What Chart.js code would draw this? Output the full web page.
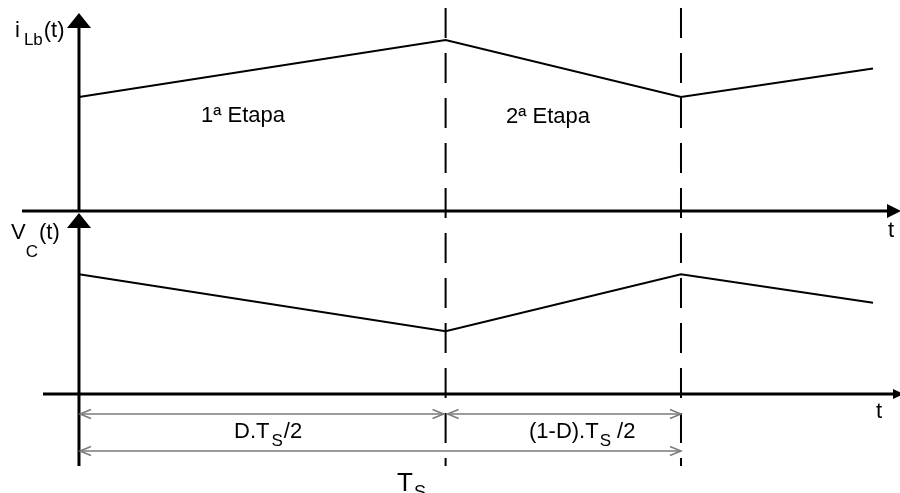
<!DOCTYPE html>
<html>
<head>
<meta charset="utf-8">
<title>iLb(t) e Vc(t)</title>
<script src="https://cdn.jsdelivr.net/npm/chart.js@4/dist/chart.umd.min.js"></script>
<style>
    body { margin: 0; background: #fff; }
    #box { width: 900px; height: 493px; }
</style>
</head>
<body>
<div id="box"><canvas id="waveChart"></canvas></div>
<script>
/* DATA (time in units of Ts, amplitudes in arbitrary units) */
let times = [0, 0.609, 1.0, 1.319];
let iLbValues = [2.0, 3.0, 2.0, 2.5];
let vCValues = [2.1, 1.1, 2.1, 1.6];
let stageLabels = ["1ª Etapa", "2ª Etapa"];
let switchTimes = [0.609, 1.0];

/* SCALE RANGES */
let xMin = -0.1312, xMax = 1.3638;
let topMin = -4.947, topMax = 3.702;
let botMin = -1.737, botMax = 6.912;

let FONT = "Liberation Sans, Arial, sans-serif";

function toPoints(values) {
    return values.map((v, i) => ({ x: times[i], y: v }));
}

/* RICH TEXT: parts = [text, size, dy, gapBefore] */
function drawParts(ctx, x, y, parts) {
    ctx.fillStyle = "#000";
    ctx.textAlign = "left";
    ctx.textBaseline = "alphabetic";
    parts.forEach(p => {
        ctx.font = p[1] + "px " + FONT;
        x += p[3] || 0;
        ctx.fillText(p[0], x, y + (p[2] || 0));
        x += ctx.measureText(p[0]).width;
    });
}

function arrowUp(ctx, x, tipY) {
    ctx.beginPath();
    ctx.moveTo(x, tipY);
    ctx.lineTo(x - 12, tipY + 15);
    ctx.lineTo(x + 12, tipY + 15);
    ctx.closePath();
    ctx.fill();
}

function arrowRight(ctx, tipX, y, len, half) {
    ctx.beginPath();
    ctx.moveTo(tipX, y);
    ctx.lineTo(tipX - len, y - half);
    ctx.lineTo(tipX - len, y + half);
    ctx.closePath();
    ctx.fill();
}

/* open chevron at end of a dimension line, dir = -1 left, 1 right */
function chevron(ctx, x, y, dir) {
    ctx.beginPath();
    ctx.moveTo(x - dir * 11, y - 4.5);
    ctx.lineTo(x, y);
    ctx.lineTo(x - dir * 11, y + 4.5);
    ctx.stroke();
}

function dimLine(ctx, x1, x2, y) {
    ctx.beginPath();
    ctx.moveTo(x1, y);
    ctx.lineTo(x2, y);
    ctx.stroke();
    chevron(ctx, x1, y, -1);
    chevron(ctx, x2, y, 1);
}

/* AXES, SWITCHING LINES AND DIMENSIONS */
let diagramPlugin = {
    id: "diagram",
    beforeDatasetsDraw(chart) {
        let ctx = chart.ctx;
        let x = chart.scales.x, yT = chart.scales.yTop, yB = chart.scales.yBot;
        let x0 = x.getPixelForValue(0);
        let zeroTop = yT.getPixelForValue(0);
        let zeroBot = yB.getPixelForValue(0);

        ctx.save();
        ctx.fillStyle = "#000";
        ctx.strokeStyle = "#000";

        /* dashed switching lines */
        ctx.lineWidth = 2;
        ctx.setLineDash([30, 15]);
        switchTimes.forEach(t => {
            let px = x.getPixelForValue(t);
            ctx.beginPath();
            ctx.moveTo(px, 8);
            ctx.lineTo(px, 466);
            ctx.stroke();
        });
        ctx.setLineDash([]);

        /* axes */
        ctx.lineWidth = 3;
        ctx.beginPath();
        ctx.moveTo(x0, zeroTop);
        ctx.lineTo(x0, 25);
        ctx.moveTo(x0, 466);
        ctx.lineTo(x0, zeroTop + 15);
        ctx.moveTo(22, zeroTop);
        ctx.lineTo(888, zeroTop);
        ctx.moveTo(43, zeroBot);
        ctx.lineTo(894, zeroBot);
        ctx.stroke();
        arrowUp(ctx, x0, 13);
        arrowUp(ctx, x0, zeroTop + 2);
        arrowRight(ctx, 901, zeroTop, 14, 7);
        arrowRight(ctx, 904, zeroBot, 11, 5);

        /* dimension lines */
        let s1 = x.getPixelForValue(switchTimes[0]);
        let s2 = x.getPixelForValue(switchTimes[1]);
        ctx.strokeStyle = "#7a7a7a";
        ctx.lineWidth = 1.5;
        dimLine(ctx, x0 + 1, s1 - 2, 414);
        dimLine(ctx, s1 + 2, s2, 414);
        dimLine(ctx, x0 + 1, s2, 451);
        ctx.restore();
    },
    afterDraw(chart) {
        let ctx = chart.ctx;
        ctx.save();
        drawParts(ctx, 15, 37, [["i", 22], ["Lb", 17, 8, 4], ["(t)", 22, 0, 1]]);
        drawParts(ctx, 11, 239, [["V", 22], ["C", 17, 18], ["(t)", 22, 0, 1]]);
        drawParts(ctx, 201, 122, [[stageLabels[0], 22]]);
        drawParts(ctx, 506, 123, [[stageLabels[1], 22]]);
        drawParts(ctx, 888, 237, [["t", 22]]);
        drawParts(ctx, 876, 418, [["t", 22]]);
        drawParts(ctx, 234, 438, [["D.T", 22], ["S", 17, 8, 2], ["/2", 22, 0, 1]]);
        drawParts(ctx, 529, 438, [["(1-D).T", 22], ["S", 17, 8, 1], [" /2", 22]]);
        drawParts(ctx, 397, 491, [["T", 26], ["S", 18, 7, 1]]);
        ctx.restore();
    }
};

/* CHART */
let waveChart = new Chart(document.getElementById("waveChart"), {
    type: "line",
    data: {
        datasets: [
            {
                label: "iLb(t)",
                data: toPoints(iLbValues),
                yAxisID: "yTop",
                borderColor: "#000",
                borderWidth: 2,
                pointRadius: 0,
                tension: 0,
                fill: false
            },
            {
                label: "Vc(t)",
                data: toPoints(vCValues),
                yAxisID: "yBot",
                borderColor: "#000",
                borderWidth: 2,
                pointRadius: 0,
                tension: 0,
                fill: false
            }
        ]
    },
    options: {
        responsive: true,
        maintainAspectRatio: false,
        devicePixelRatio: 1,
        animation: false,
        layout: { padding: 0 },
        plugins: {
            legend: { display: false },
            tooltip: { enabled: false }
        },
        scales: {
            x: { type: "linear", min: xMin, max: xMax, display: false },
            yTop: { type: "linear", position: "left", min: topMin, max: topMax, display: false },
            yBot: { type: "linear", position: "left", min: botMin, max: botMax, display: false }
        }
    },
    plugins: [diagramPlugin]
});
</script>
</body>
</html>
